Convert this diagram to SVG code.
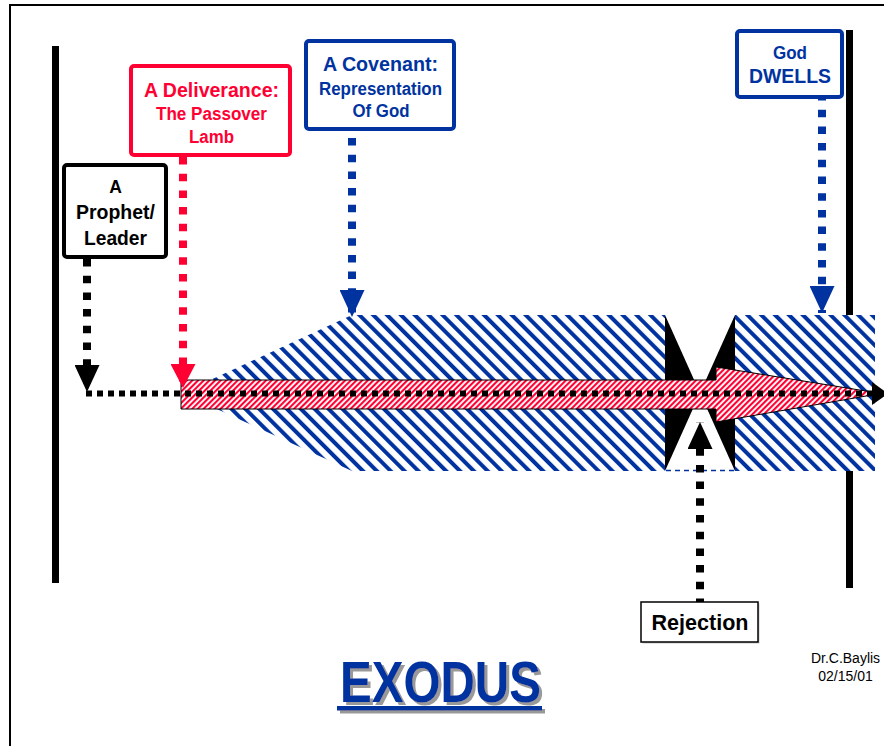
<svg xmlns="http://www.w3.org/2000/svg" width="884" height="746" viewBox="0 0 884 746">
<style>
.lbl{font-family:"Liberation Sans",Arial,sans-serif;font-weight:bold;text-anchor:middle}
.box{fill:#fff;stroke-width:4}
.dotv{fill:none;stroke-width:8;stroke-dasharray:7.5 9.2}
.blk{fill:#000}.red{fill:#FF0033}.blu{fill:#0033A0}
</style>
<defs>
<pattern id="blueHatch" width="9.8" height="9.8" patternUnits="userSpaceOnUse" patternTransform="rotate(-45)">
<rect width="9.8" height="9.8" fill="#fff"/><rect width="4" height="9.8" fill="#0033A0"/>
</pattern>
<pattern id="redHatch" width="4" height="4" patternUnits="userSpaceOnUse" patternTransform="rotate(45)">
<rect width="4" height="4" fill="#fff"/><rect width="2.1" height="4" fill="#FF0033"/>
</pattern>
<marker id="hBlack" markerUnits="userSpaceOnUse" viewBox="0 0 27 25" markerWidth="27" markerHeight="25" refX="27" refY="12.5" orient="auto"><path d="M0,0 L27,12.5 L0,25 Z" fill="#000"/></marker>
<marker id="hRed" markerUnits="userSpaceOnUse" viewBox="0 0 24 25" markerWidth="24" markerHeight="25" refX="24" refY="12.5" orient="auto"><path d="M0,0 L24,12.5 L0,25 Z" fill="#FF0033"/></marker>
<marker id="hBlue" markerUnits="userSpaceOnUse" viewBox="0 0 27 25" markerWidth="27" markerHeight="25" refX="27" refY="12.5" orient="auto"><path d="M0,0 L27,12.5 L0,25 Z" fill="#0033A0"/></marker>
<filter id="shadow" x="-5%" y="-10%" width="115%" height="130%">
<feDropShadow dx="3" dy="3" stdDeviation="0.7" flood-color="#999999" flood-opacity="1"/>
</filter>
</defs>
<rect width="884" height="746" fill="#fff"/>
<!-- page border -->
<path d="M10,746 L10,5 L884,5" fill="none" stroke="#000" stroke-width="2"/>
<!-- time bars -->
<rect x="52" y="46" width="7" height="537" fill="#000"/>
<rect x="846" y="30" width="7" height="558" fill="#000"/>
<!-- hatched journey -->
<g id="journey">
<polygon points="182,393 352,315 665,315 665,471 352,471" fill="url(#blueHatch)"/>
<rect x="735" y="315" width="140" height="156" fill="url(#blueHatch)"/>
<polygon points="665,315 665,471 700,393" fill="#000"/>
<polygon points="735,315 735,471 700,393" fill="#000"/>
<line x1="666" y1="470.5" x2="735" y2="470.5" stroke="#0033A0" stroke-width="1.5" stroke-dasharray="5 4"/>
<polygon points="181,380 716,380 716,367 872,392 872,395 716,422 716,409 181,409" fill="url(#redHatch)" stroke="#000" stroke-width="1"/>
</g>
<!-- connectors -->
<g id="connectors">
<line x1="86" y1="393.5" x2="872" y2="393.5" stroke="#000" stroke-width="6" stroke-dasharray="6 5"/>
<polygon points="872,382 888,393.5 872,405" fill="#000"/>
<path class="dotv" d="M87,259 L87,392" stroke="#000" marker-end="url(#hBlack)"/>
<path class="dotv" d="M183,157 L183,388" stroke="#FF0033" marker-end="url(#hRed)"/>
<path class="dotv" d="M352,138 L352,317" stroke="#0033A0" marker-end="url(#hBlue)"/>
<path class="dotv" d="M822,93 L822,313" stroke="#0033A0" marker-end="url(#hBlue)"/>
<path class="dotv" d="M700,606 L700,422" stroke="#000" marker-end="url(#hBlack)"/>
</g>
<!-- nodes -->
<g id="prophet">
<rect class="box" x="64" y="165" width="102" height="92" rx="3" stroke="#000"/>
<text class="lbl blk" x="115.5" y="193" font-size="17.5">A</text>
<text class="lbl blk" x="115.5" y="219" font-size="20" textLength="79" lengthAdjust="spacingAndGlyphs">Prophet/</text>
<text class="lbl blk" x="115.5" y="245" font-size="20.5" textLength="63" lengthAdjust="spacingAndGlyphs">Leader</text>
</g>
<g id="deliverance">
<rect class="box" x="131" y="66" width="159" height="89" rx="3" stroke="#FF0033"/>
<text class="lbl red" x="211.5" y="97" font-size="21" textLength="135" lengthAdjust="spacingAndGlyphs">A Deliverance:</text>
<text class="lbl red" x="211.5" y="120" font-size="17.5" textLength="111" lengthAdjust="spacingAndGlyphs">The Passover</text>
<text class="lbl red" x="211.5" y="143" font-size="17.5" textLength="45" lengthAdjust="spacingAndGlyphs">Lamb</text>
</g>
<g id="covenant">
<rect class="box" x="306" y="41" width="148" height="88" rx="3" stroke="#0033A0"/>
<text class="lbl blu" x="380.5" y="71" font-size="20" textLength="115" lengthAdjust="spacingAndGlyphs">A Covenant:</text>
<text class="lbl blu" x="380.5" y="95" font-size="17.5" textLength="123" lengthAdjust="spacingAndGlyphs">Representation</text>
<text class="lbl blu" x="381" y="117" font-size="17.5" textLength="57" lengthAdjust="spacingAndGlyphs">Of God</text>
</g>
<g id="dwells">
<rect class="box" x="737" y="31" width="105" height="66" rx="3" stroke="#0033A0"/>
<text class="lbl blu" x="790" y="59" font-size="17.5" textLength="34" lengthAdjust="spacingAndGlyphs">God</text>
<text class="lbl blu" x="790" y="83" font-size="20" textLength="82" lengthAdjust="spacingAndGlyphs">DWELLS</text>
</g>
<g id="rejection">
<rect x="642.5" y="603.5" width="117" height="40" fill="#c8c8c8"/>
<rect x="641" y="602" width="117" height="40" fill="#fff" stroke="#000" stroke-width="1.5"/>
<text class="lbl blk" x="700" y="630" font-size="22" textLength="97" lengthAdjust="spacingAndGlyphs">Rejection</text>
</g>
<!-- title -->
<g id="title" filter="url(#shadow)">
<text class="lbl blu" x="340" y="702" font-size="57" style="text-anchor:start" textLength="201" lengthAdjust="spacingAndGlyphs">EXODUS</text>
<rect x="337" y="706" width="205" height="4.5" fill="#0033A0"/>
</g>
<g id="credit" font-family="'Liberation Sans',Arial,sans-serif" font-size="14" text-anchor="middle" fill="#000">
<text x="845.5" y="663">Dr.C.Baylis</text>
<text x="845.5" y="681">02/15/01</text>
</g>
</svg>
